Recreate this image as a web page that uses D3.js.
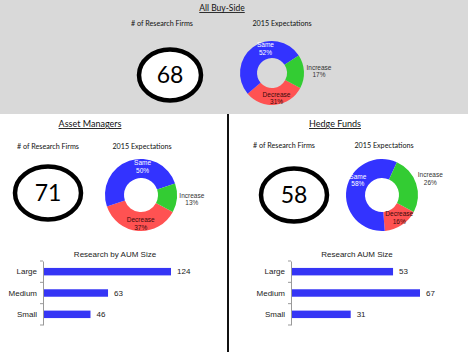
<!DOCTYPE html>
<html>
<head>
<meta charset="utf-8">
<script src="https://cdn.jsdelivr.net/npm/d3@7"></script>
<style>
    html, body { margin: 0; padding: 0; background: #fff; }
    svg { display: block; }
</style>
</head>
<body>
<svg id="canvas" width="468" height="352"></svg>
<script>
(function () {

    // Data.
    const GROUP_TITLES = ["All Buy-Side", "Asset Managers", "Hedge Funds"];
    const FIRM_COUNTS = [68, 71, 58];
    const EXPECT_CATEGORIES = ["Decrease", "Same", "Increase"];
    const ALL_EXPECT = [31, 52, 17];
    const AM_EXPECT = [37, 50, 13];
    const HF_EXPECT = [16, 58, 26];
    const SIZE_CATEGORIES = ["Large", "Medium", "Small"];
    const AM_AUM = [124, 63, 46];
    const HF_AUM = [53, 67, 31];
    const BAR_TITLES = ["Research by AUM Size", "Research AUM Size"];

    // Styles.
    const TITLE_FONT = "Lato, 'Open Sans', sans-serif";
    const CHART_FONT = "'Liberation Sans', Arial, sans-serif";
    const SLICE_COLORS = { Decrease: "#ff5252", Same: "#3333ff", Increase: "#33cc33" };
    const LABEL_COLORS = { Decrease: "#3a0a0a", Same: "#ffffff", Increase: "#333333" };
    // Label placement: extra angle (degrees) and whether the label sits outside the ring.
    const LABEL_SHIFT = { Decrease: -4, Same: 22, Increase: 0 };
    const BAR_COLOR = "#3535f5";
    const START_ANGLE = 118 * Math.PI / 180;

    // Panel layout (centres of each block).
    let panels = [
        { title: [222, 11], firmsLabel: [162, 26], expLabel: [282, 26],
          ellipse: [170, 75, 31, 25.5], donut: [272, 73, 32, 15], expect: ALL_EXPECT },
        { title: [90, 127], firmsLabel: [48, 149], expLabel: [142, 149],
          ellipse: [48, 193, 33, 26.5], donut: [141, 195, 36, 17], expect: AM_EXPECT,
          bars: { data: AM_AUM, x0: 43, width: 128, top: 261, bottom: 325, title: BAR_TITLES[0], titleX: 115 } },
        { title: [335, 127], firmsLabel: [284, 148], expLabel: [384, 148],
          ellipse: [294, 195, 33, 26.5], donut: [382, 195, 36, 17], expect: HF_EXPECT,
          bars: { data: HF_AUM, x0: 291, width: 129, top: 261, bottom: 325, title: BAR_TITLES[1], titleX: 357 } }
    ];

    let svg = d3.select("#canvas");

    // Backgrounds and divider.
    svg.append("rect").attr("x", 0).attr("y", 0).attr("width", 468).attr("height", 352).attr("fill", "#fff");
    svg.append("rect").attr("x", 0).attr("y", 0).attr("width", 468).attr("height", 114).attr("fill", "#d9d9d9");
    svg.append("line")
        .attr("x1", 228).attr("x2", 228).attr("y1", 114).attr("y2", 352)
        .attr("stroke", "#111").attr("stroke-width", 2);

    let pie = d3.pie()
        .sort(null)
        .value(d => d.value)
        .startAngle(START_ANGLE)
        .endAngle(START_ANGLE + 2 * Math.PI);

    /**
     * Position of a slice label: mid angle of the slice (plus a small shift),
     * inside the ring, or just outside it for the "Increase" slice.
     */
    function labelPos(a, outer, inner) {
        let angle = (a.startAngle + a.endAngle) / 2 + LABEL_SHIFT[a.data.name] * Math.PI / 180;
        let r = a.data.name === "Increase" ? outer + 15 : (outer + inner) / 2 + 2;
        return [Math.sin(angle) * r, -Math.cos(angle) * r];
    }

    panels.forEach(function (p, i) {
        let g = svg.append("g");

        // Titles.
        g.append("text")
            .attr("x", p.title[0]).attr("y", p.title[1])
            .attr("text-anchor", "middle")
            .attr("font-family", TITLE_FONT)
            .attr("font-size", i === 0 ? 8.5 : 9)
            .attr("fill", "#111")
            .attr("text-decoration", "underline")
            .text(GROUP_TITLES[i]);

        g.append("text")
            .attr("x", p.firmsLabel[0]).attr("y", p.firmsLabel[1])
            .attr("text-anchor", "middle")
            .attr("font-family", TITLE_FONT).attr("font-size", 7.2)
            .attr("fill", "#111")
            .text("# of Research Firms");
        g.append("text")
            .attr("x", p.expLabel[0]).attr("y", p.expLabel[1])
            .attr("text-anchor", "middle")
            .attr("font-family", TITLE_FONT).attr("font-size", 7.2)
            .attr("fill", "#111")
            .text("2015 Expectations");

        // Firm count ellipse.
        let e = p.ellipse;
        g.append("ellipse")
            .attr("cx", e[0]).attr("cy", e[1]).attr("rx", e[2]).attr("ry", e[3])
            .attr("fill", "#fff").attr("stroke", "#000").attr("stroke-width", 4.5);
        g.append("text")
            .attr("x", e[0]).attr("y", e[1])
            .attr("dy", "0.35em")
            .attr("text-anchor", "middle")
            .attr("font-family", TITLE_FONT).attr("font-size", 23)
            .attr("fill", "#000")
            .text(FIRM_COUNTS[i]);

        // Expectations donut.
        let d = p.donut;
        let data = EXPECT_CATEGORIES.map((c, k) => ({ name: c, value: p.expect[k] }));
        let arc = d3.arc().innerRadius(d[3]).outerRadius(d[2]);
        let donut = g.append("g").attr("transform", "translate(" + d[0] + "," + d[1] + ")");
        let arcs = pie(data);
        donut.selectAll("path")
            .data(arcs)
            .enter().append("path")
            .attr("fill", a => SLICE_COLORS[a.data.name])
            .attr("d", arc);

        let labels = donut.selectAll("text.slice-label")
            .data(arcs)
            .enter().append("text")
            .attr("class", "slice-label")
            .attr("transform", a => "translate(" + labelPos(a, d[2], d[3]) + ")")
            .attr("text-anchor", "middle")
            .attr("font-family", CHART_FONT).attr("font-size", 6.5)
            .attr("fill", a => LABEL_COLORS[a.data.name]);
        labels.append("tspan").attr("x", 0).attr("dy", "-0.2em").text(a => a.data.name);
        labels.append("tspan").attr("x", 0).attr("dy", "1.15em").text(a => a.data.value + "%");

        // Bar chart.
        if (p.bars) {
            let b = p.bars;
            let xScale = d3.scaleLinear().domain([0, d3.max(b.data)]).range([b.x0, b.x0 + b.width]);
            let yScale = d3.scaleBand().domain(SIZE_CATEGORIES).range([b.top, b.bottom])
                .paddingInner(0.65).paddingOuter(0.325);

            g.append("text")
                .attr("x", b.titleX).attr("y", b.top - 4)
                .attr("text-anchor", "middle")
                .attr("font-family", CHART_FONT).attr("font-size", 8)
                .attr("fill", "#222")
                .text(b.title);

            g.selectAll("rect.bar")
                .data(b.data)
                .enter().append("rect")
                .attr("class", "bar")
                .attr("x", xScale(0))
                .attr("y", (v, k) => yScale(SIZE_CATEGORIES[k]))
                .attr("width", v => xScale(v) - xScale(0))
                .attr("height", yScale.bandwidth())
                .attr("fill", BAR_COLOR);

            g.selectAll("text.value")
                .data(b.data)
                .enter().append("text")
                .attr("class", "value")
                .attr("x", v => xScale(v) + 6)
                .attr("y", (v, k) => yScale(SIZE_CATEGORIES[k]) + yScale.bandwidth() / 2)
                .attr("dy", "0.35em")
                .attr("font-family", CHART_FONT).attr("font-size", 8)
                .attr("fill", "#222")
                .text(v => v);

            // Category axis: labels plus tick marks between categories.
            let axis = g.append("g")
                .attr("transform", "translate(" + b.x0 + ",0)")
                .call(d3.axisLeft(yScale).tickSize(0).tickPadding(6));
            axis.select(".domain").attr("stroke", "#999");
            axis.selectAll("text")
                .attr("font-family", CHART_FONT).attr("font-size", 8)
                .attr("fill", "#222");
            let bounds = d3.range(SIZE_CATEGORIES.length + 1).map(k => b.top + k * yScale.step());
            axis.selectAll("line.sep")
                .data(bounds)
                .enter().append("line")
                .attr("class", "sep")
                .attr("x1", -3).attr("x2", 0)
                .attr("y1", y => y).attr("y2", y => y)
                .attr("stroke", "#999");
        }
    });

})();
</script>
</body>
</html>
